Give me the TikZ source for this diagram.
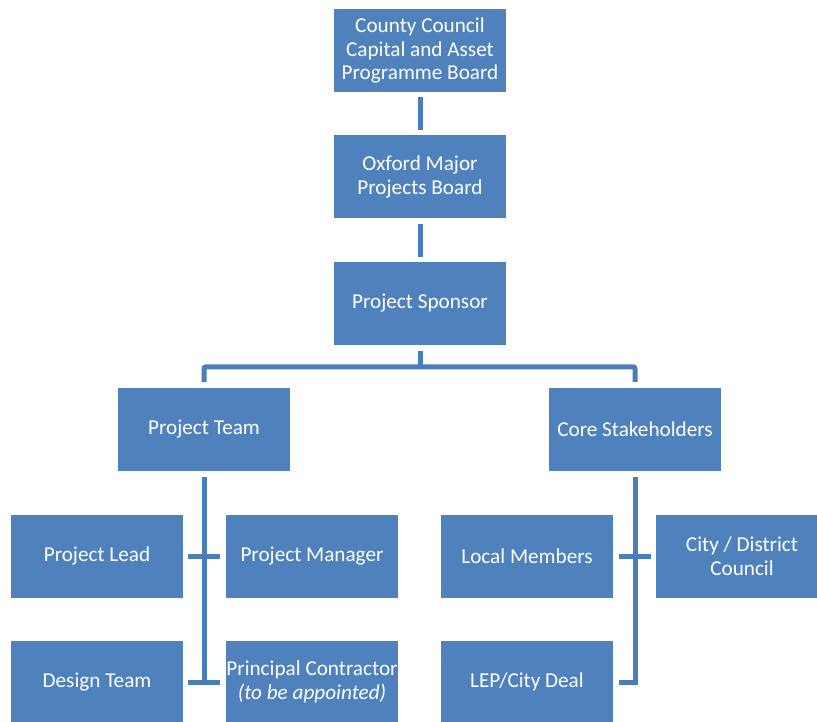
\documentclass[tikz,border=0pt]{standalone}
\usepackage{fontspec}
\setmainfont{Carlito}
\usetikzlibrary{calc}
\definecolor{boxblue}{HTML}{4F81BD}
\definecolor{lineblue}{HTML}{4A7EBB}
\begin{document}
\begin{tikzpicture}[x=1pt,y=-1pt,
  orgbox/.style={fill=boxblue,draw=none,minimum width=172pt,minimum height=83pt,inner sep=0pt,
    text=white,align=center,font=\fontsize{21.2}{23.5}\selectfont},
  conn/.style={draw=lineblue,line width=5pt}]
\useasboundingbox (0,0) rectangle (817,722);
\begin{scope}
\clip (0,0) rectangle (817,722);
\node[orgbox] (top) at (420,50.5) {County Council\\Capital and Asset\\Programme Board};
\node[orgbox] (oxf) at (420,177) {Oxford Major\\Projects Board};
\node[orgbox] (spon) at (420,303.5) {Project Sponsor};
\node[orgbox] (team) at (204,429.5) {Project Team};
\node[orgbox] (core) at (635,429.5) {Core Stakeholders};
\node[orgbox] (lead) at (97,556) {Project Lead};
\node[orgbox] (mgr) at (312,556) {Project Manager};
\node[orgbox] (local) at (527,556) {Local Members};
\node[orgbox] (city) at (742,556) {City / District\\Council};
\node[orgbox] (design) at (97,682) {Design Team};
\node[orgbox] (princ) at (312,682) {Principal Contractor\\\textit{(to be appointed)}};
\node[orgbox] (lep) at (527,682) {LEP/City Deal};
\end{scope}
% vertical chain
\draw[conn] ([yshift=-5pt]top.south) -- ([yshift=5pt]oxf.north);
\draw[conn] ([yshift=-5pt]oxf.south) -- ([yshift=5pt]spon.north);
% bracket
\draw[conn] ([yshift=-6pt]spon.south) -- ($(spon.south)+(0,22)$);
\draw[conn,rounded corners=2pt] ([yshift=6pt]team.north) -- ($(team.north)+(0,-21)$)
  -- ($(core.north)+(0,-21)$) -- ([yshift=6pt]core.north);
% left branch
\draw[conn] ([yshift=-6pt]team.south) -- (team.south |- design.east);
\draw[conn] ([xshift=5pt]lead.east) -- ([xshift=-6pt]mgr.west);
\draw[conn] ([xshift=5pt]design.east) -- ([xshift=-6pt]princ.west);
% right branch
\draw[conn] ([yshift=-6pt]core.south) -- (core.south |- lep.east) -- ([xshift=6pt]lep.east);
\draw[conn] ([xshift=6pt]local.east) -- ([xshift=-5pt]city.west);
\end{tikzpicture}
\end{document}
